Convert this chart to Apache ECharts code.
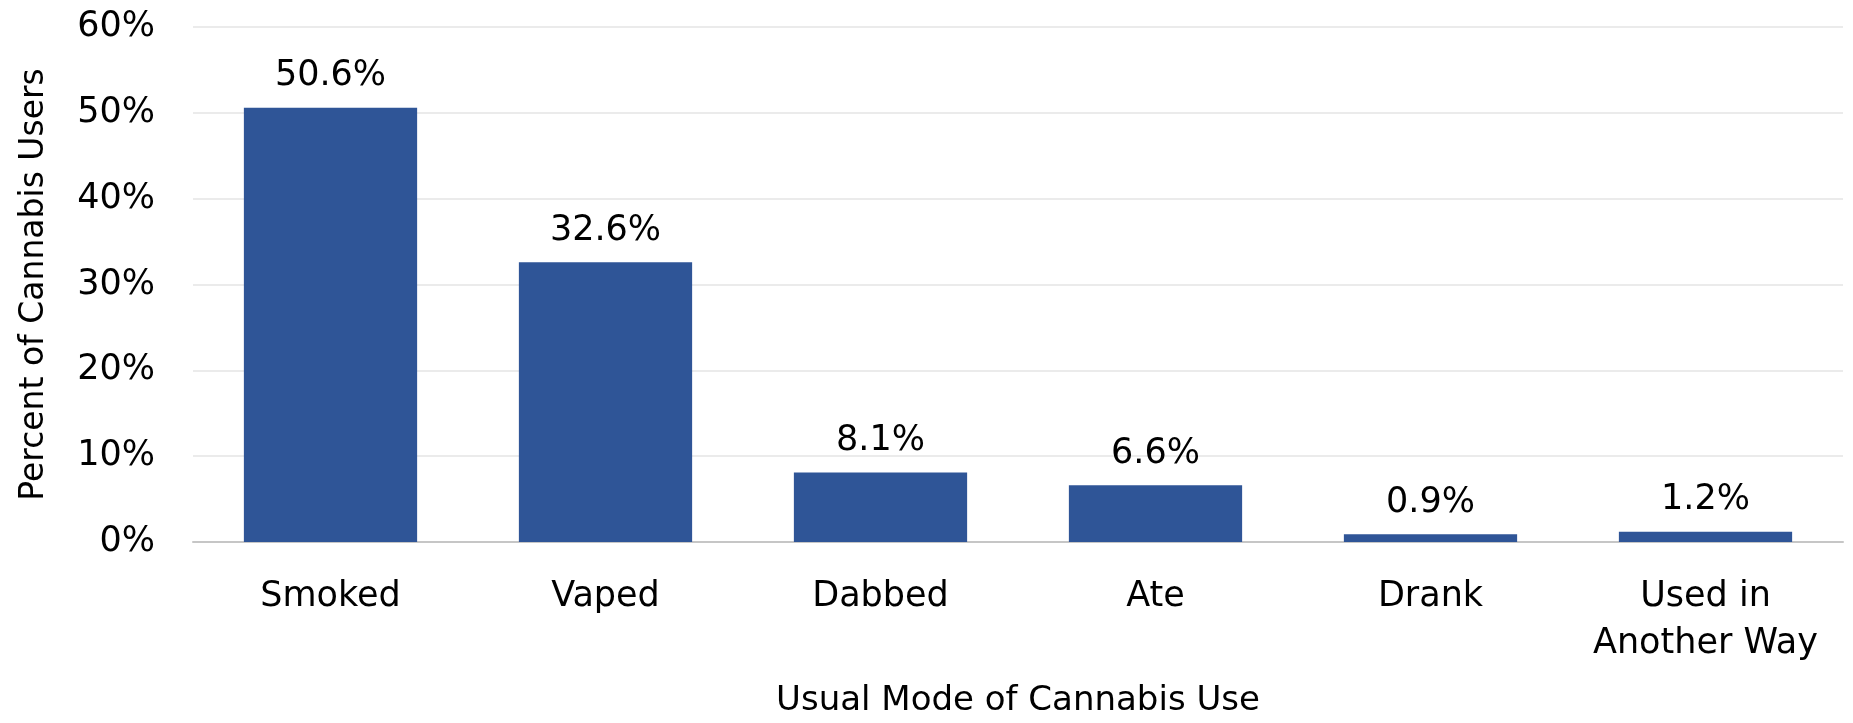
<!DOCTYPE html>
<html>
<head>
<meta charset="utf-8">
<script src="https://cdn.jsdelivr.net/npm/echarts@6/dist/echarts.min.js"></script>
<style>
html,body{margin:0;padding:0;background:#fff;}
#chart{width:1853px;height:723px;}
</style>
</head>
<body>
<div id="chart"></div>
<script>
var categories = ['Smoked', 'Vaped', 'Dabbed', 'Ate', 'Drank', 'Used in\nAnother Way'];
var values = [50.6, 32.6, 8.1, 6.6, 0.9, 1.2];
var yTicks = [0, 10, 20, 30, 40, 50, 60];
var xTitle = 'Usual Mode of Cannabis Use';
var yTitle = 'Percent of Cannabis Users';

var FONT = "'DejaVu Sans', Verdana, sans-serif";
var chart = echarts.init(document.getElementById('chart'), null, {renderer: 'canvas'});
chart.setOption({
  animation: false,
  backgroundColor: '#ffffff',
  grid: {left: 193, right: 10, top: 27, bottom: 173, containLabel: false},
  xAxis: {
    type: 'category',
    data: categories,
    name: xTitle,
    nameLocation: 'middle',
    nameGap: 142,
    nameTextStyle: {fontFamily: FONT, fontSize: 34, color: '#000'},
    axisLine: {show: true, lineStyle: {color: '#c6c6c6', width: 2}},
    axisTick: {show: false},
    axisLabel: {fontFamily: FONT, fontSize: 35, color: '#000', margin: 31, lineHeight: 47, interval: 0},
    splitLine: {show: false}
  },
  yAxis: {
    type: 'value',
    min: yTicks[0],
    max: yTicks[yTicks.length - 1],
    interval: 10,
    name: yTitle,
    nameLocation: 'middle',
    nameGap: 142,
    nameRotate: 90,
    nameTextStyle: {fontFamily: FONT, fontSize: 33, color: '#000'},
    axisLine: {show: false},
    axisTick: {show: false},
    axisLabel: {fontFamily: FONT, fontSize: 35, color: '#000', margin: 38, formatter: function (v) { return v + '%'; }},
    splitLine: {show: true, lineStyle: {color: '#ebebeb', width: 2}}
  },
  series: [{
    type: 'bar',
    data: values,
    barWidth: '63%',
    itemStyle: {color: '#2F5597'},
    label: {
      show: true,
      position: 'top',
      distance: 14,
      fontFamily: FONT,
      fontSize: 35,
      color: '#000',
      formatter: function (p) { return p.value.toFixed(1) + '%'; }
    }
  }]
});
</script>
</body>
</html>
